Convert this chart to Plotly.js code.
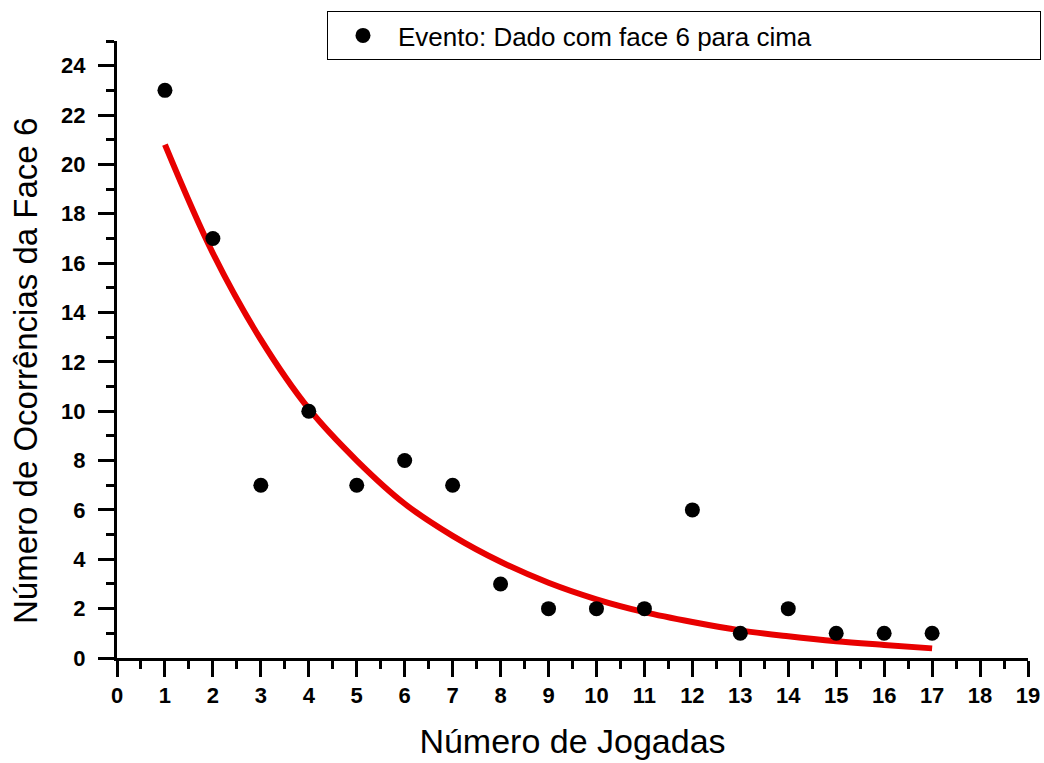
<!DOCTYPE html>
<html>
<head>
<meta charset="utf-8">
<script src="https://cdn.plot.ly/plotly-3.0.1.min.js"></script>
<style>html,body{margin:0;padding:0;background:#fff;}#chart{width:1044px;height:763px;}</style>
</head>
<body>
<div id="chart"></div>
<script>
// Observed data
const jogadas = [1,2,3,4,5,6,7,8,9,10,11,12,13,14,15,16,17];
const ocorrencias = [23,17,7,10,7,8,7,3,2,2,2,6,1,2,1,1,1];
// Fitted decay curve
const fitX = [1,2,3,4,5,6,7,8,9,10,11,12,13,14,15,16,17];
const fitY = [20.8,16.4,12.9,10.1,8.0,6.25,4.95,3.9,3.05,2.38,1.86,1.46,1.12,0.88,0.68,0.53,0.39];
const legendLabel = 'Evento: Dado com face 6 para cima';
const xTitle = 'Número de Jogadas';
const yTitle = 'Número de Ocorrências da Face 6';

const F = 'Liberation Sans, Arial, sans-serif';

const traces = [
  {
    x: fitX, y: fitY, type: 'scatter', mode: 'lines',
    line: {color: 'rgb(232,0,0)', width: 6, shape: 'spline', smoothing: 1},
    showlegend: false, hoverinfo: 'skip'
  },
  {
    x: jogadas, y: ocorrencias, type: 'scatter', mode: 'markers',
    name: legendLabel,
    marker: {color: '#000', size: 15, line: {width: 0}}
  }
];

const axisCommon = {
  showline: true, linecolor: '#000', linewidth: 3,
  ticks: 'outside', ticklen: 16, tickwidth: 3, tickcolor: '#000',
  showgrid: false, zeroline: false,
  tickfont: {family: F, size: 22, color: '#000', weight: 'bold'},
  mirror: false
};

const layout = {
  width: 1044, height: 763,
  margin: {l: 117, r: 16, t: 41, b: 105, pad: 0, autoexpand: false},
  paper_bgcolor: '#fff', plot_bgcolor: '#fff',
  xaxis: Object.assign({}, axisCommon, {
    range: [0, 19], dtick: 1, tick0: 0,
    minor: {dtick: 0.5, ticks: 'outside', ticklen: 8, tickwidth: 3, tickcolor: '#000'},
    title: {text: xTitle, font: {family: F, size: 34, color: '#000'}, standoff: 22},
    automargin: false
  }),
  yaxis: Object.assign({}, axisCommon, {
    range: [0, 25], dtick: 2, tick0: 0,
    minor: {dtick: 1, ticks: 'outside', ticklen: 8, tickwidth: 3, tickcolor: '#000'},
    ticklabelstandoff: 8,
    automargin: false
  }),
  annotations: [{
    text: yTitle, textangle: -90,
    xref: 'paper', yref: 'paper',
    x: (25 - 117) / 911, y: (658 - 371) / 617,
    xanchor: 'center', yanchor: 'middle',
    showarrow: false,
    font: {family: F, size: 33, color: '#000'}
  }],
  legend: {
    orientation: 'h',
    x: 0.2305, y: 1.0486, xanchor: 'left', yanchor: 'top',
    bgcolor: '#fff', bordercolor: '#000', borderwidth: 1,
    font: {family: F, size: 26, color: '#000'},
    itemwidth: 60, entrywidth: 637, entrywidthmode: 'pixels'
  },
  showlegend: true
};

Plotly.newPlot('chart', traces, layout, {displayModeBar: false, staticPlot: true});
</script>
</body>
</html>
